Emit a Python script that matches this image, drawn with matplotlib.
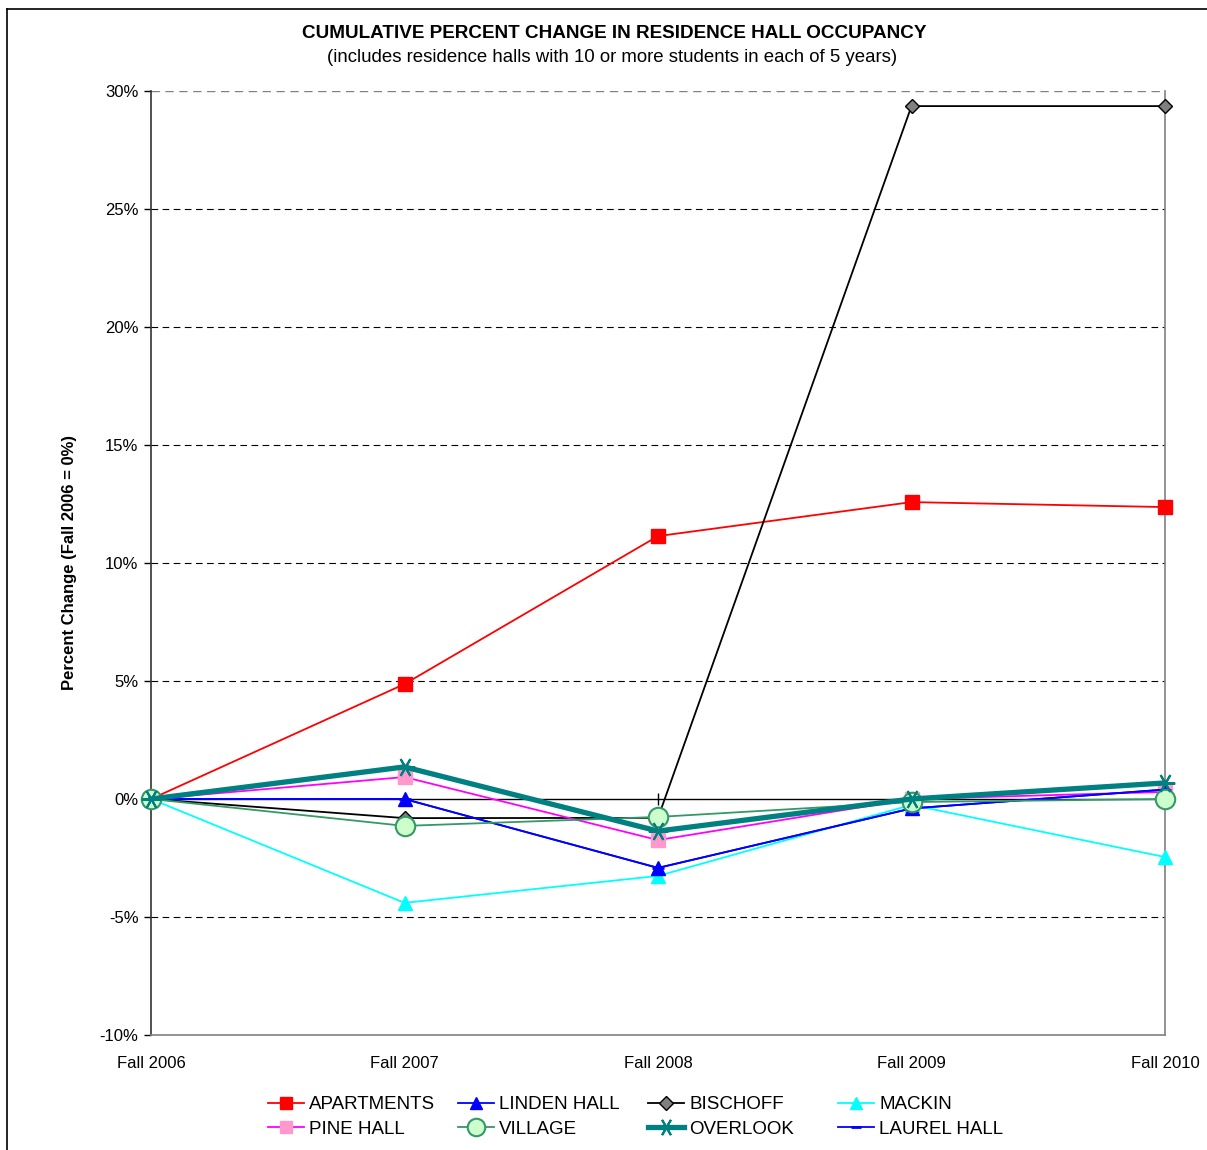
import matplotlib
matplotlib.use("Agg")
import matplotlib.pyplot as plt
from matplotlib.lines import Line2D
from matplotlib.ticker import FuncFormatter, MultipleLocator

plt.rcParams["font.family"] = ["Liberation Sans", "DejaVu Sans"]

years = ["Fall 2006", "Fall 2007", "Fall 2008", "Fall 2009", "Fall 2010"]

# cumulative percent change
apartments = [0.0, 4.87, 11.14, 12.58, 12.37]
pine_hall = [0.0, 0.93, -1.74, 0.0, 0.30]
linden_hall = [0.0, 0.0, -2.92, -0.40, 0.40]
village = [0.0, -1.14, -0.76, -0.13, 0.0]
bischoff = [0.0, -0.81, -0.80, 29.36, 29.36]
overlook = [0.0, 1.36, -1.36, 0.0, 0.68]
mackin = [0.0, -4.40, -3.26, -0.25, -2.46]
laurel_hall = [0.0, 0.0, -2.92, -0.40, 0.40]

x = list(range(len(years)))

fig = plt.figure(figsize=(12.07, 11.5), dpi=100)
ax = fig.add_axes([151 / 1207, 1 - 1035 / 1150, 1014 / 1207, 944 / 1150])

# horizontal grid
for yv in range(-5, 30, 5):
    if yv == 0:
        continue
    ax.axhline(yv, color="black", lw=0.8, ls=(0, (6, 4)), zorder=1)
ax.axhline(30, color="#808080", lw=1.0, ls=(0, (6, 4)), zorder=1)

# category axis crossing at zero
ax.axhline(0, color="black", lw=1.0, zorder=2)
ax.vlines(x, -0.25, 0.25, color="black", lw=1.0, zorder=2)

common = dict(clip_on=False)
series = {}
series["MACKIN"] = ax.plot(x, mackin, color="#00FFFF", lw=1.3, marker="^",
                           ms=10, mfc="#00FFFF", mec="#00FFFF", zorder=3, **common)[0]
series["APARTMENTS"] = ax.plot(x, apartments, color="#FF0000", lw=1.3, marker="s",
                               ms=9.5, mfc="#FF0000", mec="#FF0000", zorder=4, **common)[0]
series["BISCHOFF"] = ax.plot(x, bischoff, color="black", lw=1.3, marker="D",
                             ms=7.5, mfc="#808080", mec="black", mew=1.0, zorder=5, **common)[0]
series["PINE HALL"] = ax.plot(x, pine_hall, color="#FF00FF", lw=1.3, marker="s",
                              ms=9.5, mfc="#FF99CC", mec="#FF99CC", zorder=6, **common)[0]
series["LAUREL HALL"] = ax.plot(x, laurel_hall, color="#0000FF", lw=1.3, marker="_",
                                ms=8, mfc="#0000FF", mec="#0000FF", mew=2, zorder=6.5, **common)[0]
series["LINDEN HALL"] = ax.plot(x, linden_hall, color="#0000FF", lw=1.3, marker="^",
                                ms=10, mfc="#0000FF", mec="#0000FF", zorder=7, **common)[0]
series["VILLAGE"] = ax.plot(x, village, color="#339966", lw=1.3, marker="o",
                            ms=14, mfc="#CCFFCC", mec="#339966", mew=1.5, zorder=8, **common)[0]
series["OVERLOOK"] = ax.plot(x, overlook, color="#008080", lw=3.8, marker=(6, 2, 90),
                             ms=14, mfc="#008080", mec="#008080", mew=1.5, zorder=9, **common)[0]

ax.set_xlim(0, 4)
ax.set_ylim(-10, 30)
ax.yaxis.set_major_locator(MultipleLocator(5))
ax.yaxis.set_major_formatter(FuncFormatter(lambda v, p: f"{v:.0f}%"))
ax.set_xticks(x)
ax.set_xticklabels(years)
ax.tick_params(axis="x", length=0, pad=15, labelsize=12)
ax.tick_params(axis="y", length=5, width=1, direction="out", pad=4, labelsize=12)

for s in ("top", "right", "bottom"):
    ax.spines[s].set_color("#808080")
    ax.spines[s].set_linewidth(1.2)
ax.spines["top"].set_visible(False)
ax.spines["left"].set_color("#333333")
ax.spines["left"].set_linewidth(1.2)

ax.set_ylabel("Percent Change (Fall 2006 = 0%)", fontsize=12, fontweight="bold", labelpad=16)

fig.text(614 / 1207, 1 - 33 / 1150, "CUMULATIVE PERCENT CHANGE IN RESIDENCE HALL OCCUPANCY",
         ha="center", va="center", fontsize=13.6, fontweight="bold")
fig.text(612 / 1207, 1 - 57 / 1150, "(includes residence halls with 10 or more students in each of 5 years)",
         ha="center", va="center", fontsize=13.4)

# legend: four equal-width columns, two entries each
columns = [["APARTMENTS", "PINE HALL"], ["LINDEN HALL", "VILLAGE"],
           ["BISCHOFF", "OVERLOOK"], ["MACKIN", "LAUREL HALL"]]
col_left = [268, 458, 648, 838]
for names, left in zip(columns, col_left):
    leg = fig.legend([series[k] for k in names], names, frameon=False,
                     loc="upper left", bbox_to_anchor=(left / 1207, 1 - 1096 / 1150),
                     fontsize=13.5, handlelength=1.9, handletextpad=0.3,
                     labelspacing=0.4, markerscale=0.9, borderpad=0, borderaxespad=0)

# outer chart border (left and top edges)
fig.add_artist(Line2D([7 / 1207, 7 / 1207], [0, 1 - 9 / 1150], color="black", lw=1.2,
                      transform=fig.transFigure))
fig.add_artist(Line2D([7 / 1207, 1], [1 - 9 / 1150, 1 - 9 / 1150], color="black", lw=1.2,
                      transform=fig.transFigure))

fig.savefig("out.png", dpi=100)
